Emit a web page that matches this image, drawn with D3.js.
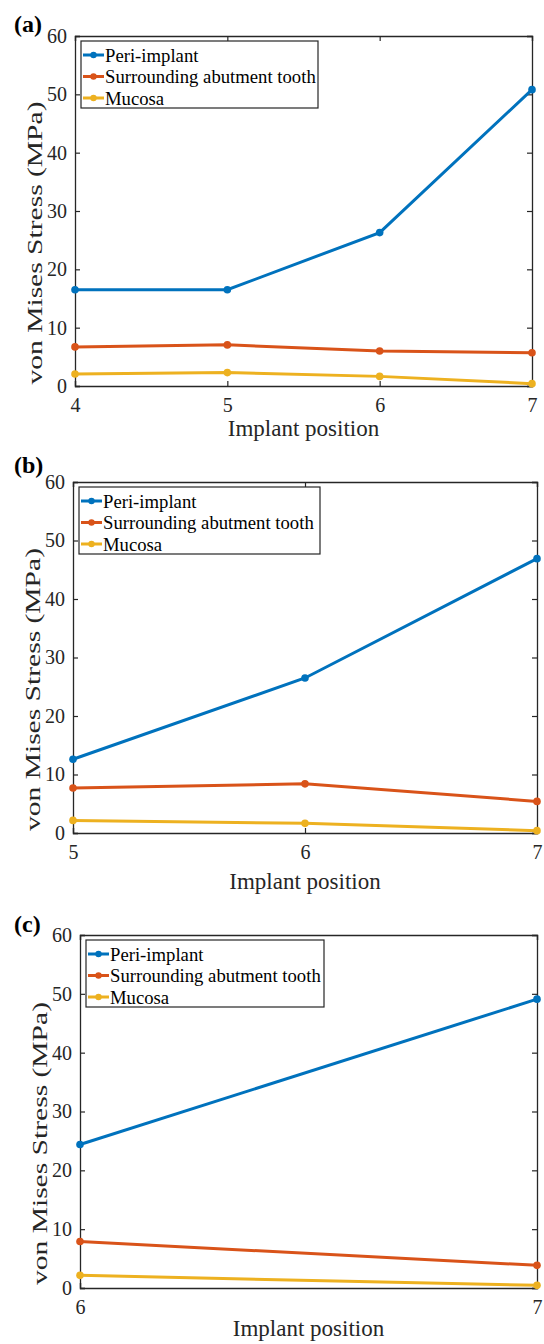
<!DOCTYPE html>
<html>
<head>
<meta charset="utf-8">
<script src="https://cdn.jsdelivr.net/npm/d3@7"></script>
<style>
  html, body { margin: 0; padding: 0; background: #fff; }
  svg { display: block; }
</style>
</head>
<body>
<div id="chart"></div>
<script>
// Series names and colours (MATLAB default order)
const seriesNames = ["Peri-implant", "Surrounding abutment tooth", "Mucosa"];
const seriesColors = ["#0072BD", "#D95319", "#EDB120"];
const yTicks = [0, 10, 20, 30, 40, 50, 60];

// (a)
const positionsA = [4, 5, 6, 7];
const periA = [16.5, 16.5, 26.3, 50.8];
const toothA = [6.7, 7.05, 6.0, 5.7];
const mucosaA = [2.05, 2.3, 1.65, 0.4];

// (b)
const positionsB = [5, 6, 7];
const periB = [12.6, 26.5, 46.9];
const toothB = [7.7, 8.4, 5.4];
const mucosaB = [2.15, 1.65, 0.4];

// (c)
const positionsC = [6, 7];
const periC = [24.4, 49.1];
const toothC = [7.9, 3.85];
const mucosaC = [2.15, 0.45];

const panels = [
    { label: "(a)", x: positionsA, series: [periA, toothA, mucosaA],
      box: { left: 75, right: 532, top: 36, bottom: 386 }, labelY: 32, titleGap: 50, legendW: 237 },
    { label: "(b)", x: positionsB, series: [periB, toothB, mucosaB],
      box: { left: 73, right: 537, top: 482, bottom: 833 }, labelY: 473, titleGap: 56, legendW: 241 },
    { label: "(c)", x: positionsC, series: [periC, toothC, mucosaC],
      box: { left: 80, right: 537, top: 935, bottom: 1288 }, labelY: 932, titleGap: 48, legendW: 238 }
];

const W = 544, H = 1344;
const font = "Liberation Serif";
const axisColor = "#262626";

const svg = d3.select("#chart")
    .append("svg")
    .attr("width", W)
    .attr("height", H)
    .attr("font-family", font);

panels.forEach(p => drawPanel(svg, p));

function drawPanel(svg, p) {
    const b = p.box;
    const g = svg.append("g");

    const xScale = d3.scaleLinear()
        .domain(d3.extent(p.x))
        .range([b.left, b.right]);

    const yScale = d3.scaleLinear()
        .domain([0, 60])
        .range([b.bottom, b.top]);

    // Axes: ticks inward on all four sides (box on)
    const tickLen = 5;
    const left = g.append("g")
        .attr("transform", `translate(${b.left},0)`)
        .call(d3.axisLeft(yScale).tickValues(yTicks).tickSize(-tickLen).tickPadding(tickLen + 3));
    const right = g.append("g")
        .attr("transform", `translate(${b.right},0)`)
        .call(d3.axisRight(yScale).tickValues(yTicks).tickSize(-tickLen).tickFormat(""));
    const bottom = g.append("g")
        .attr("transform", `translate(0,${b.bottom})`)
        .call(d3.axisBottom(xScale).tickValues(p.x).tickFormat(d3.format("d"))
            .tickSize(-tickLen).tickPadding(tickLen + 7));
    const top = g.append("g")
        .attr("transform", `translate(0,${b.top})`)
        .call(d3.axisTop(xScale).tickValues(p.x).tickSize(-tickLen).tickFormat(""));

    [left, right, bottom, top].forEach(ax => {
        ax.attr("font-family", font).attr("font-size", 20);
        ax.select(".domain").attr("stroke", axisColor).attr("stroke-width", 1.3);
        ax.selectAll(".tick line").attr("stroke", axisColor).attr("stroke-width", 1.2);
        ax.selectAll(".tick text").attr("fill", axisColor);
    });

    // Axis titles
    g.append("text")
        .attr("x", (b.left + b.right) / 2)
        .attr("y", b.bottom + p.titleGap)
        .attr("text-anchor", "middle")
        .attr("fill", axisColor)
        .attr("font-size", 23)
        .text("Implant position");

    g.append("text")
        .attr("transform", `translate(${b.left - 33},${(b.top + b.bottom) / 2 + 32}) rotate(-90)`)
        .attr("text-anchor", "middle")
        .attr("fill", axisColor)
        .attr("font-size", 21)
        .attr("textLength", 283)
        .attr("lengthAdjust", "spacingAndGlyphs")
        .text("von Mises Stress (MPa)");

    // Panel label
    g.append("text")
        .attr("x", 14)
        .attr("y", p.labelY)
        .attr("fill", "#000")
        .attr("font-weight", "bold")
        .attr("font-size", 24)
        .text(p.label);

    // Lines
    const line = d3.line()
        .x((d, i) => xScale(p.x[i]))
        .y(d => yScale(d));

    p.series.forEach((values, si) => {
        g.append("path")
            .datum(values)
            .attr("fill", "none")
            .attr("stroke", seriesColors[si])
            .attr("stroke-width", 3)
            .attr("d", line);

        g.selectAll(null)
            .data(values)
            .enter()
            .append("circle")
            .attr("cx", (d, i) => xScale(p.x[i]))
            .attr("cy", d => yScale(d))
            .attr("r", 3.8)
            .attr("fill", seriesColors[si]);
    });

    // Legend
    const lg = g.append("g")
        .attr("transform", `translate(${b.left + 6},${b.top + 5})`);

    lg.append("rect")
        .attr("width", p.legendW)
        .attr("height", 67)
        .attr("fill", "#fff")
        .attr("stroke", axisColor)
        .attr("stroke-width", 1.2);

    seriesNames.forEach((name, si) => {
        const yy = 14 + si * 21.5;
        lg.append("line")
            .attr("x1", 2).attr("x2", 23)
            .attr("y1", yy).attr("y2", yy)
            .attr("stroke", seriesColors[si])
            .attr("stroke-width", 3);
        lg.append("circle")
            .attr("cx", 12.5).attr("cy", yy)
            .attr("r", 3.2)
            .attr("fill", seriesColors[si]);
        lg.append("text")
            .attr("x", 24)
            .attr("y", yy)
            .attr("dy", "0.35em")
            .attr("fill", "#000")
            .attr("font-size", 18.7)
            .text(name);
    });
}
</script>
</body>
</html>
